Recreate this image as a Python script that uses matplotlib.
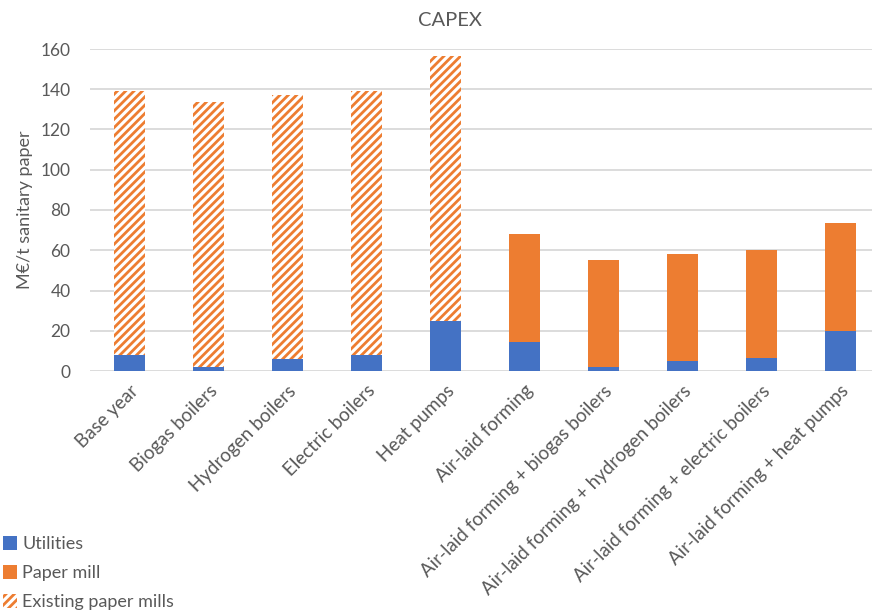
import matplotlib.pyplot as plt
import numpy as np
from matplotlib.patches import Patch

# CAPEX per scenario, M€/t sanitary paper
scenarios = ['Base year', 'Biogas boilers', 'Hydrogen boilers', 'Electric boilers', 'Heat pumps',
             'Air-laid forming', 'Air-laid forming + biogas boilers',
             'Air-laid forming + hydrogen boilers', 'Air-laid forming + electric boilers',
             'Air-laid forming + heat pumps']
utilities = [7.8, 2.2, 5.8, 7.8, 25.0, 14.6, 1.8, 4.8, 6.6, 20.0]
paper_mill = [0, 0, 0, 0, 0, 53.5, 53.5, 53.5, 53.4, 53.4]
existing_mills = [131.3, 131.5, 131.3, 131.3, 131.5, 0, 0, 0, 0, 0]

blue = '#4472C4'
orange = '#ED7D31'
grey = '#595959'

plt.rcParams['font.family'] = ['Lato', 'DejaVu Sans']
plt.rcParams['hatch.linewidth'] = 2.0
plt.rcParams['hatch.color'] = orange

fig = plt.figure(figsize=(8.72, 6.13), dpi=100)
ax = fig.add_axes([90 / 872, 1 - 371 / 613, 782 / 872, (371 - 49) / 613])

x = np.arange(len(scenarios))
w = 0.4
ax.bar(x, utilities, w, color=blue, zorder=3)
ax.bar(x, paper_mill, w, bottom=utilities, color=orange, zorder=3)
bottom2 = np.array(utilities) + np.array(paper_mill)
ax.bar(x, existing_mills, w, bottom=bottom2, facecolor='white', edgecolor=orange,
       hatch='////', linewidth=0, zorder=3)

ax.set_ylim(0, 160)
ax.set_xlim(-0.5, 9.4)
ax.set_yticks(range(0, 161, 20))
ax.yaxis.grid(True, color='#d9d9d9', linewidth=1.3, zorder=0)
ax.set_axisbelow(True)
for s in ax.spines.values():
    s.set_visible(False)
ax.tick_params(length=0, colors=grey, labelsize=12.5)
ax.tick_params(axis='y', pad=14)
ax.set_xticks(x)
ax.set_xticklabels(scenarios, rotation=45, ha='right', rotation_mode='anchor', fontsize=13.5)
ax.tick_params(axis='x', pad=8)

ax.set_ylabel('M€/t sanitary paper', color=grey, fontsize=13, labelpad=5)
fig.text(450 / 872, 1 - 20 / 613, 'CAPEX', ha='center', va='center', color=grey, fontsize=14.5)

handles = [Patch(facecolor=blue, label='Utilities'),
           Patch(facecolor=orange, label='Paper mill'),
           Patch(facecolor='white', edgecolor=orange, hatch='////', linewidth=0,
                 label='Existing paper mills')]
leg = fig.legend(handles=handles, loc='lower left', bbox_to_anchor=(-0.015, -0.022),
                 frameon=False, fontsize=13, handlelength=0.75, handleheight=0.75,
                 handletextpad=0.3, labelspacing=0.72, labelcolor=grey)

fig.savefig('out.png', dpi=100)
